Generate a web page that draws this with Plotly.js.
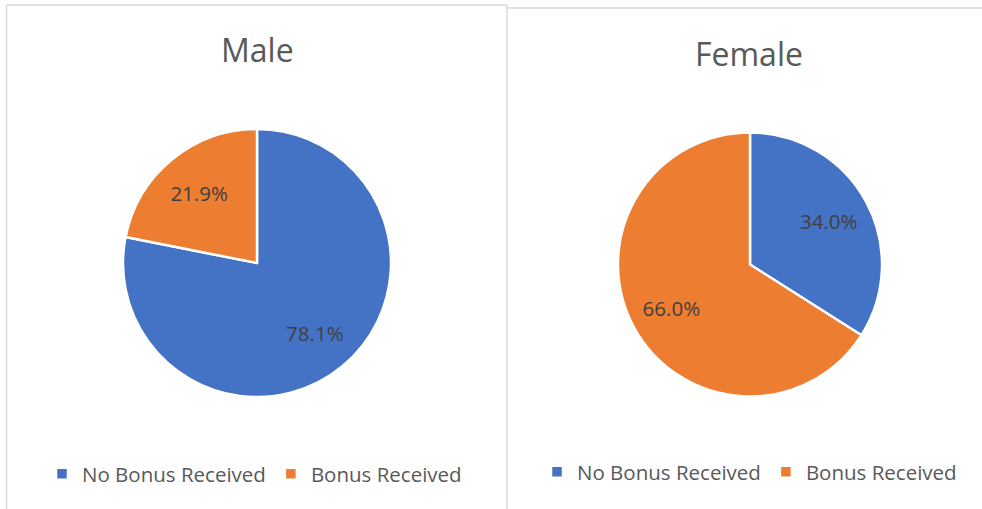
<!DOCTYPE html>
<html>
<head>
<meta charset="utf-8">
<script src="https://cdn.plot.ly/plotly-3.0.1.min.js"></script>
<style>
html,body{margin:0;padding:0;background:#fff;}
.layer{position:absolute;left:0;top:0;width:982px;height:509px;}
</style>
</head>
<body>
<div id="male" class="layer"></div>
<div id="female" class="layer"></div>
<script>
const categories = ["No Bonus Received", "Bonus Received"];
const maleValues = [78.1, 21.9];
const femaleValues = [34.0, 66.0];
const panelTitles = ["Male", "Female"];
const sliceColors = ["#4472C4", "#ED7D31"];

const W = 982, H = 509;
const px = x => x / W;
const py = y => 1 - y / H;

const FONT = "Open Sans, Noto Sans, Liberation Sans, sans-serif";

function pieTraces(values, domX, domY) {
  const base = {
    type: "pie",
    labels: categories,
    values: values,
    sort: false,
    direction: "clockwise",
    rotation: 0,
    domain: { x: domX, y: domY }
  };
  // filled slices, with legend
  const slices = Object.assign({}, base, {
    marker: { colors: sliceColors, line: { color: "#FFFFFF", width: 2.5 } },
    textinfo: "none",
    hoverinfo: "label+percent",
    showlegend: true
  });
  // transparent ring that carries the percentage labels at ~2/3 radius
  const labels = Object.assign({}, base, {
    hole: 0.36,
    marker: { colors: ["rgba(0,0,0,0)", "rgba(0,0,0,0)"], line: { width: 0 } },
    texttemplate: "%{percent:.1%}",
    textposition: "inside",
    insidetextorientation: "horizontal",
    textfont: { family: FONT, size: 20.5, color: "#404040" },
    hoverinfo: "skip",
    showlegend: false
  });
  return [slices, labels];
}

function legendAt(x, y) {
  return {
    orientation: "h",
    font: { family: FONT, size: 20.5, color: "#595959" },
    bgcolor: "rgba(0,0,0,0)",
    xanchor: "left",
    yanchor: "middle",
    itemwidth: 30,
    x: px(x),
    y: py(y)
  };
}

function titleAnn(text, x, y) {
  return { text: text, x: px(x), y: py(y), xref: "paper", yref: "paper",
    xanchor: "center", yanchor: "middle", showarrow: false,
    font: { family: FONT, size: 32, color: "#595959" } };
}

const border = { color: "#D9D9D9", width: 1.5 };
const lineShape = (x0, y0, x1, y1) => ({ type: "line", xref: "paper", yref: "paper",
  x0: px(x0), y0: py(y0), x1: px(x1), y1: py(y1), line: border });

const maleLayout = {
  width: W, height: H,
  margin: { l: 0, r: 0, t: 0, b: 0 },
  paper_bgcolor: "#FFFFFF",
  showlegend: true,
  legend: legendAt(42, 474),
  annotations: [titleAnn(panelTitles[0], 257, 49)],
  shapes: [
    lineShape(6.5, 5, 6.5, 520),
    lineShape(6.5, 5, 507, 5),
    lineShape(507, 5, 507, 520),
    lineShape(507, 8, 990, 8)
  ]
};

const femaleLayout = {
  width: W, height: H,
  margin: { l: 0, r: 0, t: 0, b: 0 },
  paper_bgcolor: "rgba(0,0,0,0)",
  showlegend: true,
  legend: legendAt(537, 472),
  annotations: [titleAnn(panelTitles[1], 749, 53)]
};

const cfg = { displayModeBar: false, staticPlot: true };
Plotly.newPlot("male", pieTraces(maleValues, [px(123), px(391)], [py(397), py(129)]), maleLayout, cfg);
Plotly.newPlot("female", pieTraces(femaleValues, [px(618), px(882)], [py(397), py(132)]), femaleLayout, cfg);
</script>
</body>
</html>
